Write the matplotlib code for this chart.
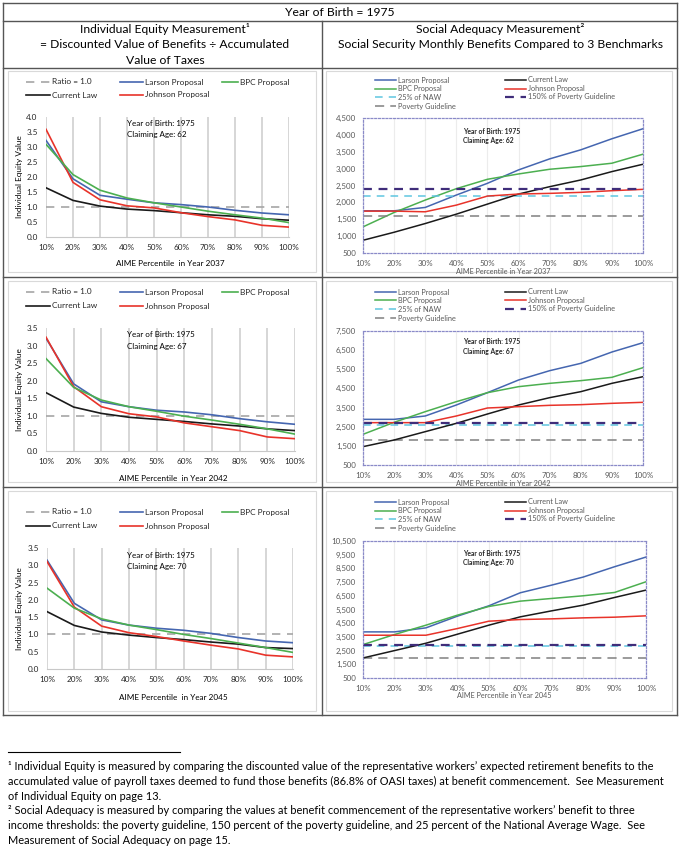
import matplotlib
matplotlib.use('Agg')
import matplotlib.pyplot as plt
from matplotlib.lines import Line2D
from matplotlib.patches import Rectangle
from matplotlib.ticker import FuncFormatter

plt.rcParams['font.family'] = ['Lato', 'DejaVu Sans']

W, H = 680, 850

# ---- data ----
percentiles = [10, 20, 30, 40, 50, 60, 70, 80, 90, 100]
pct_labels = [f'{p}%' for p in percentiles]
birth_year = 1975
claim_ages = [62, 67, 70]
aime_years = [2037, 2042, 2045]
ratio_line = 1.0

# individual equity values, one row per claiming age
ie_larson = [
    [3.22, 1.94, 1.39, 1.26, 1.14, 1.08, 1.00, 0.89, 0.80, 0.74],
    [3.21, 1.91, 1.40, 1.26, 1.16, 1.11, 1.03, 0.92, 0.83, 0.76],
    [3.15, 1.90, 1.42, 1.27, 1.18, 1.12, 1.03, 0.91, 0.81, 0.76],
]
ie_bpc = [
    [3.09, 2.08, 1.56, 1.30, 1.14, 1.00, 0.86, 0.74, 0.63, 0.48],
    [2.63, 1.81, 1.45, 1.26, 1.13, 0.99, 0.88, 0.76, 0.63, 0.48],
    [2.34, 1.76, 1.45, 1.27, 1.14, 1.00, 0.88, 0.75, 0.62, 0.48],
]
ie_current = [
    [1.64, 1.22, 1.03, 0.93, 0.88, 0.81, 0.74, 0.69, 0.61, 0.56],
    [1.66, 1.25, 1.07, 0.96, 0.90, 0.84, 0.77, 0.71, 0.63, 0.58],
    [1.66, 1.26, 1.07, 0.98, 0.91, 0.85, 0.78, 0.72, 0.62, 0.59],
]
ie_johnson = [
    [3.59, 1.82, 1.24, 1.04, 0.97, 0.81, 0.68, 0.57, 0.39, 0.33],
    [3.24, 1.83, 1.26, 1.06, 0.97, 0.80, 0.69, 0.58, 0.40, 0.35],
    [3.11, 1.79, 1.24, 1.05, 0.94, 0.81, 0.69, 0.58, 0.40, 0.35],
]
ie_ymax = [4.0, 3.5, 3.5]

# monthly benefits, one row per claiming age
sa_larson = [
    [1750, 1750, 1850, 2217, 2565, 2962, 3289, 3557, 3885, 4182],
    [2885, 2885, 3060, 3634, 4278, 4940, 5427, 5810, 6402, 6890],
    [3866, 3866, 4159, 5012, 5768, 6720, 7280, 7866, 8622, 9329],
]
sa_bpc = [
    [1274, 1701, 2068, 2406, 2684, 2842, 2981, 3061, 3160, 3428],
    [2102, 2729, 3286, 3809, 4278, 4592, 4766, 4906, 5080, 5585],
    [2939, 3671, 4354, 5085, 5720, 6110, 6305, 6500, 6744, 7524],
]
sa_current = [
    [877, 1115, 1373, 1651, 1949, 2247, 2465, 2664, 2912, 3130],
    [1458, 1806, 2241, 2677, 3164, 3634, 4018, 4331, 4766, 5114],
    [1963, 2500, 3037, 3695, 4354, 4963, 5402, 5817, 6378, 6915],
]
sa_johnson = [
    [1741, 1741, 1721, 1919, 2187, 2247, 2267, 2297, 2346, 2386],
    [2712, 2712, 2712, 3060, 3478, 3548, 3617, 3652, 3722, 3774],
    [3622, 3622, 3622, 4110, 4646, 4768, 4817, 4890, 4939, 5037],
]
naw_25 = [2190, 2600, 2840]
poverty_150 = [2390, 2670, 2895]
poverty = [1590, 1780, 1930]
sa_ymax = [4500, 7500, 10500]
sa_step = [500, 1000, 1000]

# ---- styles ----
c_larson = '#4566b0'
c_bpc = '#4caf50'
c_current = '#1a1a1a'
c_johnson = '#e8332a'
c_ratio = '#a6a6a6'
c_naw = '#5fc6e0'
c_pov150 = '#3f2d7a'
c_pov = '#808080'
c_table = '#555555'
c_gray_txt = '#595959'

st_ratio = dict(color=c_ratio, lw=1.2, ls=(0, (5, 4)))
st_larson = dict(color=c_larson, lw=1.2)
st_bpc = dict(color=c_bpc, lw=1.2)
st_current = dict(color=c_current, lw=1.2)
st_johnson = dict(color=c_johnson, lw=1.2)
st_naw = dict(color=c_naw, lw=1.1, ls=(0, (5, 4)))
st_pov = dict(color=c_pov, lw=1.1, ls=(0, (6, 4)))
st_pov150 = dict(color=c_pov150, lw=1.6, ls=(0, (4, 3)))


def fx(x):
    return x / W


def fy(y):
    return 1 - y / H


def box(x0, y0, x1, y1):
    return [x0 / W, 1 - y1 / H, (x1 - x0) / W, (y1 - y0) / H]


fig = plt.figure(figsize=(6.8, 8.5), dpi=100)
renderer = fig.canvas.get_renderer()


def fit_size(s, width_px, **kw):
    # font size that makes string s about width_px pixels wide
    t = fig.text(0, 0, s, fontsize=10, **kw)
    w = t.get_window_extent(renderer).width
    t.remove()
    return 10 * width_px / w


def legend_entry(x0, x1, y, label, size, tcolor, style):
    fig.add_artist(Line2D([fx(x0), fx(x1)], [fy(y), fy(y)], **style))
    fig.text(fx(x1 + 2), fy(y), label, ha='left', va='center', fontsize=size, color=tcolor)


fs_head = fit_size('= Discounted Value of Benefits \u00f7 Accumulated', 250)
fs_note = fit_size('accumulated value of payroll taxes deemed to fund those benefits (86.8% of OASI taxes) '
                   'at benefit commencement.  See Measurement', 654)
fs_ie_leg = fit_size('Larson Proposal', 58)
fs_ie_tick = fit_size('10%', 16)
fs_ie_ylab = fit_size('Individual Equity Value', 82)
fs_ie_xlab = fit_size('AIME Percentile  in Year 2037', 108)
fs_ie_ann = fit_size('Year of Birth: 1975', 68)
fs_sa_leg = fit_size('Larson Proposal', 52)
fs_sa_tick = fit_size('4,500', 20)
fs_sa_xlab = fit_size('AIME Percentile in Year 2037', 95)
fs_sa_ann = fit_size('Year of Birth: 1975', 58, fontweight='bold')

# ---- table frame ----
table_rows = [3, 21, 68, 277, 487, 715]
for y in table_rows:
    fig.add_artist(Line2D([fx(3), fx(677)], [fy(y), fy(y)], color=c_table, lw=1))
fig.add_artist(Line2D([fx(3), fx(3)], [fy(3), fy(715)], color=c_table, lw=1))
fig.add_artist(Line2D([fx(677), fx(677)], [fy(3), fy(715)], color=c_table, lw=1))
fig.add_artist(Line2D([fx(322), fx(322)], [fy(21), fy(715)], color=c_table, lw=1))

fig.text(fx(340), fy(12), f'Year of Birth = {birth_year}', ha='center', va='center', fontsize=fs_head)
fig.text(fx(165), fy(29), 'Individual Equity Measurement\u00b9', ha='center', va='center', fontsize=fs_head)
fig.text(fx(165), fy(45), '= Discounted Value of Benefits \u00f7 Accumulated', ha='center', va='center',
         fontsize=fs_head)
fig.text(fx(165), fy(61), 'Value of Taxes', ha='center', va='center', fontsize=fs_head)
fig.text(fx(500), fy(29), 'Social Adequacy Measurement\u00b2', ha='center', va='center', fontsize=fs_head)
fig.text(fx(500), fy(45), 'Social Security Monthly Benefits Compared to 3 Benchmarks',
         ha='center', va='center', fontsize=fs_head)

# chart area boxes (pixels) and plot areas
row_tops = [71, 281, 491]
row_bots = [272, 482, 711]
ie_plot = [(46, 117, 289, 237), (46, 328, 295, 451), (47, 548, 293, 669)]
sa_plot = [(363, 118, 643, 253), (363, 331, 643, 465), (363, 541, 646, 678)]
ie_leg_rows = [(82, 95), (292, 306), (512, 526)]
sa_leg_rows = [(80, 89, 97, 106), (292, 300, 309, 318), (502, 511, 519, 528)]
ie_xlab_y = [264, 479, 697]
ie_ann_y = [123, 335, 555]
sa_ann_y = [131, 342, 553]

for i, age in enumerate(claim_ages):
    top, bot = row_tops[i], row_bots[i]
    for x0, x1 in [(8, 316), (326, 672)]:
        fig.add_artist(Rectangle((fx(x0), fy(bot)), (x1 - x0) / W, (bot - top) / H,
                                 transform=fig.transFigure, fill=False,
                                 edgecolor='#d9d9d9', lw=0.8))

    # ---- individual equity chart ----
    ax = fig.add_axes(box(*ie_plot[i]))
    ax.axhline(ratio_line, **st_ratio)
    ax.plot(percentiles, ie_current[i], **st_current)
    ax.plot(percentiles, ie_larson[i], **st_larson)
    ax.plot(percentiles, ie_johnson[i], **st_johnson)
    ax.plot(percentiles, ie_bpc[i], **st_bpc)
    ax.set_xlim(10, 100)
    ax.set_ylim(0, ie_ymax[i])
    ax.set_xticks(percentiles)
    ax.set_xticklabels(pct_labels)
    yt = [k * 0.5 for k in range(int(ie_ymax[i] / 0.5) + 1)]
    ax.set_yticks(yt)
    ax.yaxis.set_major_formatter(FuncFormatter(lambda v, p: f'{v:.1f}'))
    ax.tick_params(length=0, labelsize=fs_ie_tick, colors='#262626')
    ax.tick_params(axis='y', pad=6)
    ax.tick_params(axis='x', pad=5)
    ax.grid(axis='x', color='#d0d0d0', lw=1.2)
    ax.set_axisbelow(True)
    for s in ['top', 'left', 'right']:
        ax.spines[s].set_visible(False)
    ax.spines['bottom'].set_color('#c8c8c8')
    ax.set_facecolor('none')

    r1, r2 = ie_leg_rows[i]
    legend_entry(26, 50, r1, 'Ratio = 1.0', fs_ie_leg, '#262626', st_ratio)
    legend_entry(26, 50, r2, 'Current Law', fs_ie_leg, '#262626', st_current)
    legend_entry(120, 143, r1, 'Larson Proposal', fs_ie_leg, '#262626', st_larson)
    legend_entry(120, 143, r2, 'Johnson Proposal', fs_ie_leg, '#262626', st_johnson)
    legend_entry(222, 238, r1, 'BPC Proposal', fs_ie_leg, '#262626', st_bpc)

    x0, y0, x1, y1 = ie_plot[i]
    fig.text(fx(20), fy((y0 + y1) / 2), 'Individual Equity Value', rotation=90,
             ha='center', va='center', fontsize=fs_ie_ylab)
    fig.text(fx((x0 + x1) / 2 + 3), fy(ie_xlab_y[i]),
             f'AIME Percentile  in Year {aime_years[i]}', ha='center', va='center', fontsize=fs_ie_xlab)
    fig.text(fx(127), fy(ie_ann_y[i]), f'Year of Birth: {birth_year}', ha='left', va='center',
             fontsize=fs_ie_ann)
    fig.text(fx(127), fy(ie_ann_y[i] + 12), f'Claiming Age: {age}', ha='left', va='center',
             fontsize=fs_ie_ann)

    # ---- social adequacy chart ----
    ax2 = fig.add_axes(box(*sa_plot[i]))
    ax2.plot(percentiles, sa_larson[i], **dict(st_larson, lw=1.1))
    ax2.plot(percentiles, sa_bpc[i], **dict(st_bpc, lw=1.1))
    ax2.axhline(naw_25[i], **st_naw)
    ax2.axhline(poverty[i], **st_pov)
    ax2.plot(percentiles, sa_current[i], **dict(st_current, lw=1.1))
    ax2.plot(percentiles, sa_johnson[i], **dict(st_johnson, lw=1.1))
    ax2.axhline(poverty_150[i], **st_pov150)
    ax2.set_xlim(10, 100)
    ax2.set_ylim(500, sa_ymax[i])
    ax2.set_xticks(percentiles)
    ax2.set_xticklabels(pct_labels)
    ax2.set_yticks(range(500, sa_ymax[i] + 1, sa_step[i]))
    ax2.yaxis.set_major_formatter(FuncFormatter(lambda v, p: f'{int(v):,}'))
    ax2.tick_params(length=0, labelsize=fs_sa_tick, colors=c_gray_txt, pad=5)
    ax2.grid(axis='x', color='#ececec', lw=0.8)
    ax2.set_axisbelow(True)
    for s in ax2.spines.values():
        s.set_linestyle((0, (1.5, 1.5)))
        s.set_color('#8a8ac8')
        s.set_linewidth(0.9)
    ax2.set_facecolor('none')

    q1, q2, q3, q4 = sa_leg_rows[i]
    legend_entry(375, 396, q1, 'Larson Proposal', fs_sa_leg, c_gray_txt, dict(st_larson, lw=1.1))
    legend_entry(375, 396, q2, 'BPC Proposal', fs_sa_leg, c_gray_txt, dict(st_bpc, lw=1.1))
    legend_entry(375, 396, q3, '25% of NAW', fs_sa_leg, c_gray_txt, st_naw)
    legend_entry(375, 396, q4, 'Poverty Guideline', fs_sa_leg, c_gray_txt, st_pov)
    legend_entry(505, 526, q1, 'Current Law', fs_sa_leg, c_gray_txt, dict(st_current, lw=1.1))
    legend_entry(505, 526, q2, 'Johnson Proposal', fs_sa_leg, c_gray_txt, dict(st_johnson, lw=1.1))
    legend_entry(505, 526, q3, '150% of Poverty Guideline', fs_sa_leg, c_gray_txt, st_pov150)

    x0, y0, x1, y1 = sa_plot[i]
    fig.text(fx((x0 + x1) / 2), fy(y1 + 18), f'AIME Percentile in Year {aime_years[i]}',
             ha='center', va='center', fontsize=fs_sa_xlab, color=c_gray_txt)
    fig.text(fx(463), fy(sa_ann_y[i]), f'Year of Birth: {birth_year}', ha='left', va='center',
             fontsize=fs_sa_ann, fontweight='bold', color='#262626')
    fig.text(fx(463), fy(sa_ann_y[i] + 10), f'Claiming Age: {age}', ha='left', va='center',
             fontsize=fs_sa_ann, fontweight='bold', color='#262626')

# ---- footnotes ----
fig.add_artist(Line2D([fx(8), fx(180)], [fy(752), fy(752)], color='black', lw=0.8))
notes = [
    '\u00b9 Individual Equity is measured by comparing the discounted value of the representative workers\u2019 expected retirement benefits to the',
    'accumulated value of payroll taxes deemed to fund those benefits (86.8% of OASI taxes) at benefit commencement.  See Measurement',
    'of Individual Equity on page 13.',
    '\u00b2 Social Adequacy is measured by comparing the values at benefit commencement of the representative workers\u2019 benefit to three',
    'income thresholds: the poverty guideline, 150 percent of the poverty guideline, and 25 percent of the National Average Wage.  See',
    'Measurement of Social Adequacy on page 15.',
]
note_y = [767, 781.5, 796, 811, 825.5, 840]
for txt, y in zip(notes, note_y):
    fig.text(fx(8), fy(y), txt, ha='left', va='center', fontsize=fs_note)

fig.savefig('out.png', dpi=100)
